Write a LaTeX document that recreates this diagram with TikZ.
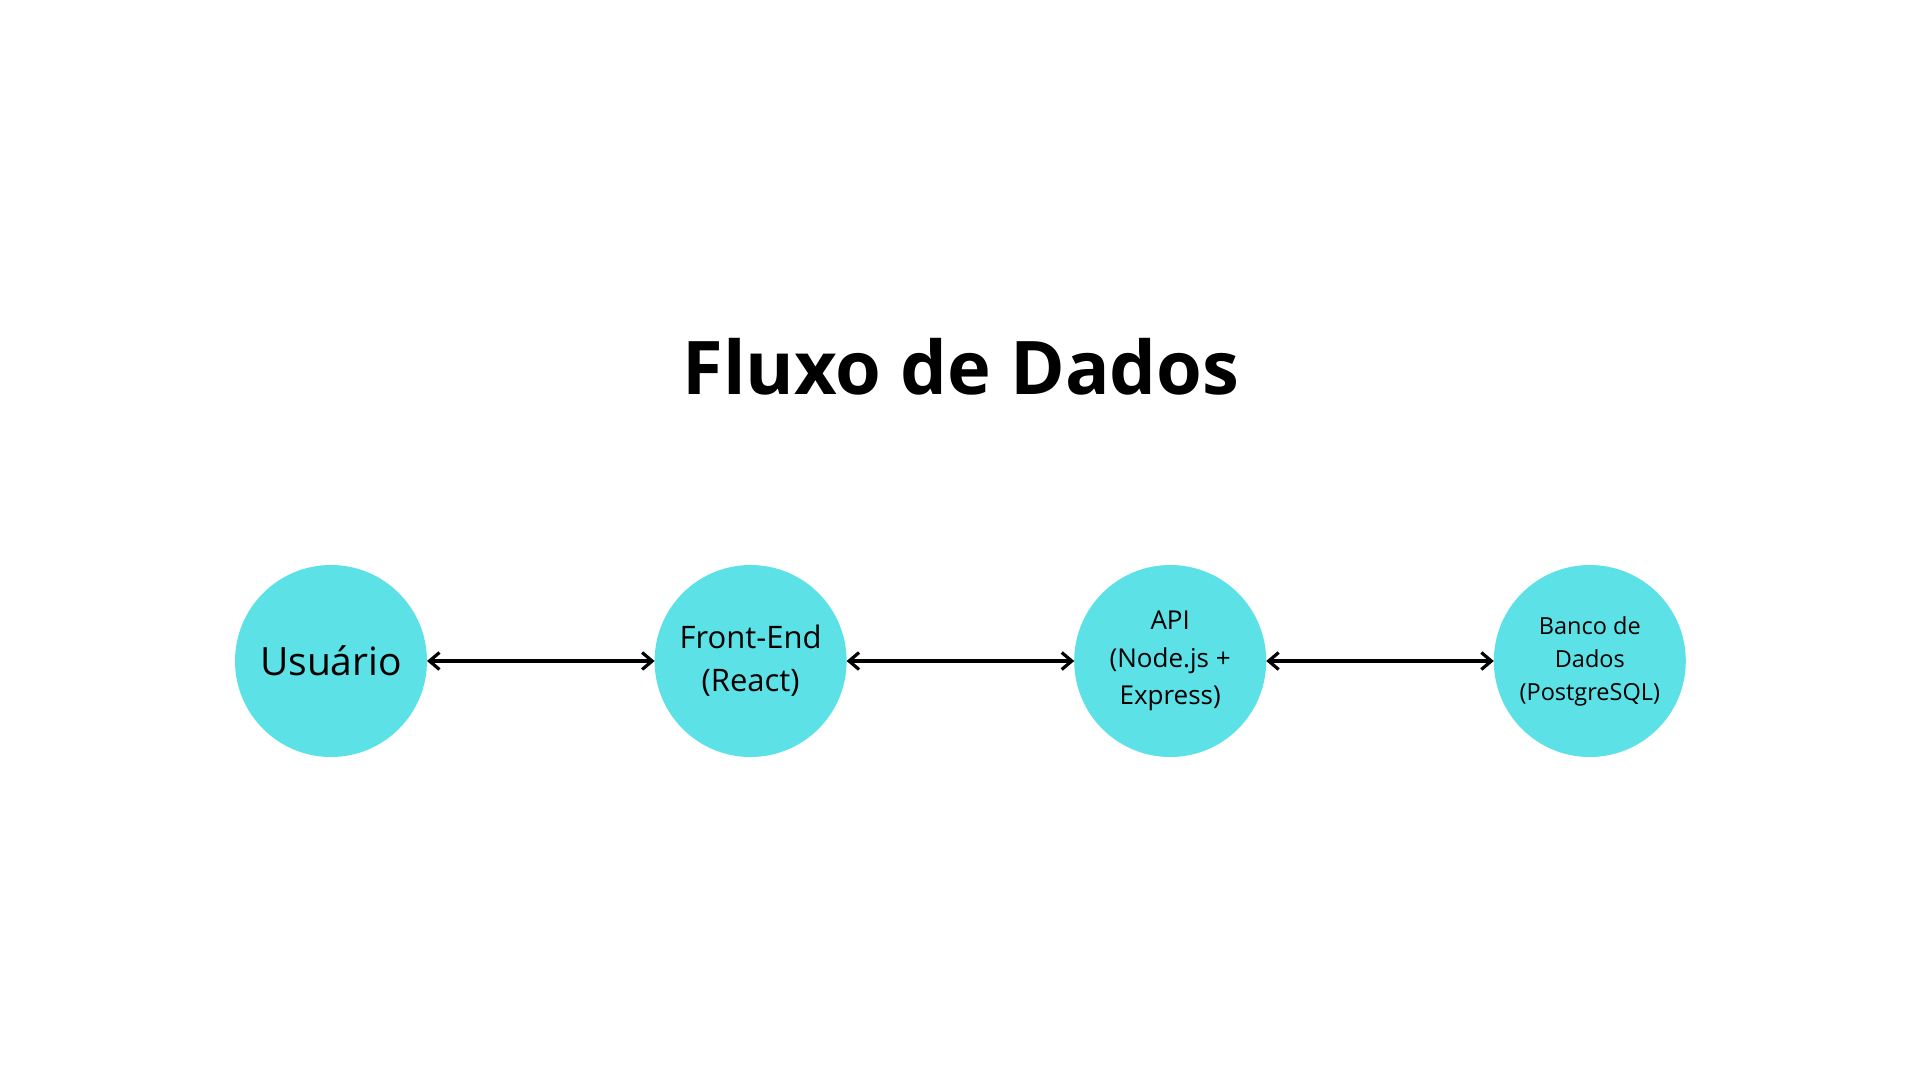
\documentclass[tikz,border=0pt]{standalone}
\usepackage{fontspec}
\setmainfont{Open Sans}
\usepackage{tikz}
\usetikzlibrary{arrows.meta, positioning}
\usepackage{xcolor}
\definecolor{ciano}{HTML}{5CE1E6}
\tikzset{%
	every etapa/.style={
		circle,
		fill=ciano,
		minimum size=192pt,
		inner sep=0pt,
		outer sep=0pt,
		align=center,
		text=black
	},
	seta/.style={
		{Straight Barb[length=10pt,width=17pt]}-{Straight Barb[length=10pt,width=17pt]},
		line width=3.2pt,
		line cap=round
	},
}
\begin{document}
\begin{tikzpicture}[x=1pt,y=-1pt]
				\useasboundingbox (0,0) rectangle (1920,1080);
				% Title
				\node[anchor=base, font=\fontsize{74}{88}\selectfont\bfseries] (titulo) at (961,394) {Fluxo de Dados};
				% Stages
				\node[every etapa, font=\fontsize{39}{48}\selectfont] (usuario) at (331,661) {Usuário};
				\node[every etapa, font=\fontsize{31}{43}\selectfont, right=227.6pt of usuario] (frontend) {Front-End\\(React)};
				\node[every etapa, font=\fontsize{26}{37.5}\selectfont, right=227.6pt of frontend] (api) {API\\(Node.js +\\Express)};
				\node[every etapa, font=\fontsize{23.5}{33}\selectfont, right=227.6pt of api] (banco) {Banco de\\Dados\\(PostgreSQL)};
				% Connect stages
				\foreach \a/\b in {usuario/frontend, frontend/api, api/banco}
				{
					\draw[seta] (\a) -- (\b);
				}
			\end{tikzpicture}
\end{document}
